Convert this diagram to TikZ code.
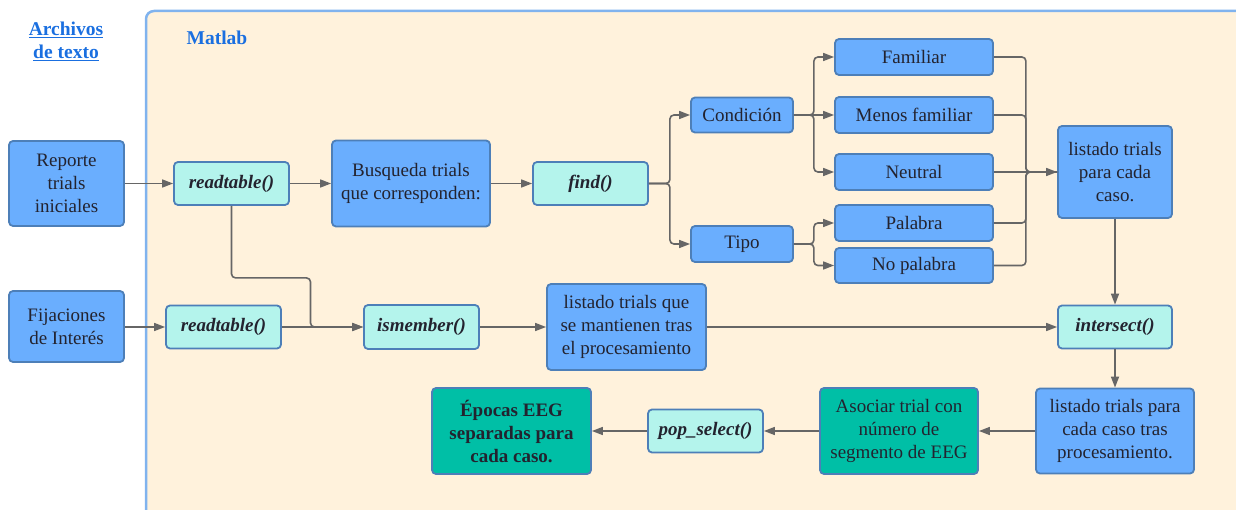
\documentclass[tikz,border=0pt]{standalone}
\usepackage{fontspec}
\setmainfont{Liberation Serif}
\usetikzlibrary{arrows.meta}
\definecolor{boxblue}{HTML}{6AAEFE}
\definecolor{boxedge}{HTML}{4D7FB8}
\definecolor{fncyan}{HTML}{B4F4EC}
\definecolor{tealbox}{HTML}{00BFA6}
\definecolor{cream}{HTML}{FFF2DC}
\definecolor{frameblue}{HTML}{80B3EE}
\definecolor{titleblue}{HTML}{1A6FE0}
\definecolor{wire}{HTML}{666666}
\definecolor{ink}{HTML}{23232F}
\tikzset{
  box/.style={draw=boxedge, line width=1.8pt, rounded corners=4pt, fill=boxblue,
    align=center, inner sep=0pt, text=ink,
    font=\fontsize{19}{23}\selectfont},
  fnbox/.style={box, fill=fncyan, font=\fontsize{19}{23}\selectfont\bfseries\itshape},
  tealnode/.style={box, fill=tealbox},
  wirestyle/.style={draw=wire, line width=1.6pt},
  arr/.style={wirestyle, -{Triangle[length=11pt,width=8pt]}},
}
\begin{document}
\begin{tikzpicture}[x=1pt, y=-1pt]
\useasboundingbox (0,0) rectangle (1236,510);
% Matlab area
\begin{scope}
\clip (0,0) rectangle (1236,510);
\draw[draw=frameblue, fill=cream, line width=2.5pt, rounded corners=8pt] (146,11) rectangle (1260,530);
\end{scope}
\node[text=titleblue, font=\fontsize{19.5}{23}\selectfont\bfseries, align=center] (files) at (66,41) {\underline{Archivos}\\\underline{de texto}};
\node[text=titleblue, font=\fontsize{19.5}{23}\selectfont\bfseries] (matlab) at (217,37.5) {Matlab};

% first row
\node[box, minimum width=115pt, minimum height=85pt] (rep) at (66.5,183.5) {Reporte\\trials\\iniciales};
\node[fnbox, minimum width=115pt, minimum height=43pt] (rt1) at (231.5,183.5) {readtable()};
\node[box, minimum width=158pt, minimum height=86pt] (bus) at (411,183.5) {Busqueda trials\\que corresponden:};
\node[fnbox, minimum width=115pt, minimum height=43pt] (find) at (590.5,183.5) {find()};
\node[box, minimum width=102pt, minimum height=35pt] (cond) at (742,115) {Condición};
\node[box, minimum width=102pt, minimum height=36pt] (tipo) at (742,244) {Tipo};
\node[box, minimum width=158pt, minimum height=36pt] (fam) at (914,57) {Familiar};
\node[box, minimum width=158pt, minimum height=36pt] (men) at (914,115) {Menos familiar};
\node[box, minimum width=158pt, minimum height=36pt] (neu) at (914,172) {Neutral};
\node[box, minimum width=158pt, minimum height=36pt] (pal) at (914,223) {Palabra};
\node[box, minimum width=158pt, minimum height=35pt] (nop) at (914,265.5) {No palabra};
\node[box, minimum width=114pt, minimum height=92pt] (lst) at (1115,172) {listado trials\\para cada\\caso.};

% second row
\node[box, minimum width=115pt, minimum height=71pt] (fij) at (66.5,326.5) {Fijaciones\\de Interés};
\node[fnbox, minimum width=115pt, minimum height=43pt] (rt2) at (223.5,327) {readtable()};
\node[fnbox, minimum width=115pt, minimum height=44pt] (ism) at (421.5,327) {ismember()};
\node[box, minimum width=159pt, minimum height=86pt] (lmt) at (626.5,327) {listado trials que\\se mantienen tras\\el procesamiento};
\node[fnbox, minimum width=114pt, minimum height=43pt] (int) at (1115,327) {intersect()};

% third row
\node[box, minimum width=158pt, minimum height=85pt] (ltp) at (1115,431) {listado trials para\\cada caso tras\\procesamiento.};
\node[tealnode, minimum width=158pt, minimum height=86pt] (aso) at (899,431) {Asociar trial con\\número de\\segmento de EEG};
\node[fnbox, minimum width=115pt, minimum height=43pt] (pop) at (705.5,431) {pop\_select()};
\node[tealnode, minimum width=159pt, minimum height=86pt, font=\fontsize{19}{23}\selectfont\bfseries] (epo) at (511.5,431) {Épocas EEG\\separadas para\\cada caso.};

% connectors, first row
\draw[arr] (rep) -- (rt1);
\draw[arr] (rt1) -- (bus);
\draw[arr] (bus) -- (find);
\draw[arr, rounded corners=4pt] (find.east) -- ++(21,0) |- (cond.west);
\draw[arr, rounded corners=4pt] (find.east) -- ++(21,0) |- (tipo.west);
\draw[arr, rounded corners=4pt] (cond.east) -- ++(20,0) |- (fam.west);
\draw[arr] (cond) -- (men);
\draw[arr, rounded corners=4pt] (cond.east) -- ++(20,0) |- (neu.west);
\draw[arr, rounded corners=4pt] (tipo.east) -- ++(20,0) |- (pal.west);
\draw[arr, rounded corners=4pt] (tipo.east) -- ++(20,0) |- (nop.west);
\draw[wirestyle, rounded corners=4pt] (fam.east) -- ++(32,0) |- (lst.west);
\draw[wirestyle, rounded corners=4pt] (men.east) -- ++(32,0) |- (lst.west);
\draw[wirestyle, rounded corners=4pt] (pal.east) -- ++(32,0) |- (lst.west);
\draw[wirestyle, rounded corners=4pt] (nop.east) -- ++(32,0) |- (lst.west);
\draw[arr] (neu) -- (lst);

% connectors, second row
\draw[arr, rounded corners=4pt] (rt1.south) -- ++(0,72) -- ++(79,0) |- (ism.west);
\draw[arr] (fij.east |- rt2) -- (rt2);
\draw[arr] (rt2) -- (ism);
\draw[arr] (ism) -- (lmt);
\draw[arr] (lmt) -- (int);
\draw[arr] (lst) -- (int);

% connectors, third row
\draw[arr] (int) -- (ltp);
\draw[arr] (ltp) -- (aso);
\draw[arr] (aso) -- (pop);
\draw[arr] (pop) -- (epo);
\end{tikzpicture}
\end{document}
